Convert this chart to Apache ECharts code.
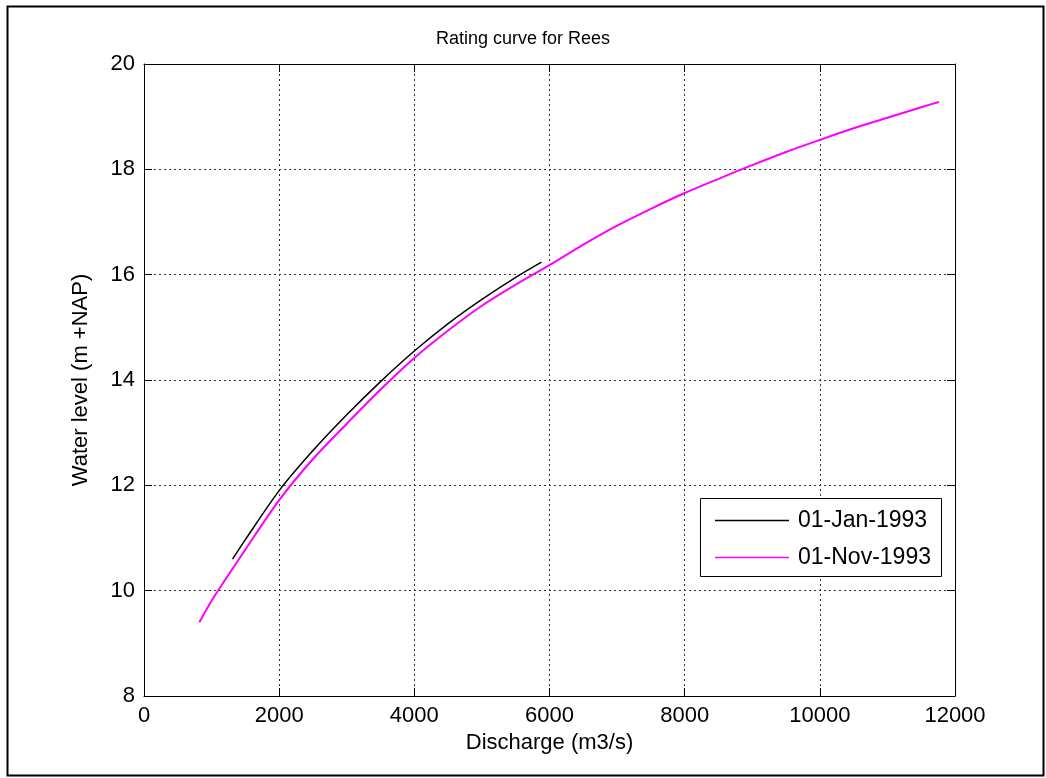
<!DOCTYPE html>
<html><head><meta charset="utf-8">
<script src="https://cdn.jsdelivr.net/npm/echarts@6/dist/echarts.min.js"></script>
<style>html,body{margin:0;padding:0;background:#fff}#c{width:1046px;height:778px}</style>
</head><body><div id="c"></div>
<script>
// ---- data ----
const titleText = 'Rating curve for Rees';
const xLabel = 'Discharge (m3/s)';
const yLabel = 'Water level (m +NAP)';
const xTickLabels = ['0', '2000', '4000', '6000', '8000', '10000', '12000'];
const yTickLabels = ['8', '10', '12', '14', '16', '18', '20'];
const seriesNames = ['01-Jan-1993', '01-Nov-1993'];
// 01-Jan-1993 (black)
const janQ = [1310, 1500, 2000, 2500, 3000, 3500, 4000, 4500, 5000, 5500, 5881];
const janH = [10.60, 10.97, 11.90, 12.66, 13.34, 13.97, 14.55, 15.07, 15.53, 15.95, 16.24];
// 01-Nov-1993 (magenta)
const novQ = [820, 1000, 1500, 2000, 2500, 3000, 3500, 4000, 4500, 5000, 5500, 6000, 6500, 7000, 7500, 8000, 8500, 9000, 9500, 10000, 10500, 11000, 11500, 11763];
const novH = [9.40, 9.81, 10.78, 11.72, 12.50, 13.17, 13.82, 14.42, 14.94, 15.41, 15.81, 16.18, 16.57, 16.93, 17.25, 17.55, 17.82, 18.08, 18.33, 18.56, 18.78, 18.98, 19.18, 19.28];

const xVals = xTickLabels.map(Number), yVals = yTickLabels.map(Number);
const xMin = xVals[0], xMax = xVals[xVals.length - 1], xStep = xVals[1] - xVals[0];
const yMin = yVals[0], yMax = yVals[yVals.length - 1], yStep = yVals[1] - yVals[0];
const pairs = (a, b) => a.map((v, i) => [v, b[i]]);

const FONT = 'Liberation Sans, Arial, sans-serif';
const FS = 22;
const chart = echarts.init(document.getElementById('c'), null, {renderer: 'canvas'});

const axisBase = {
  type: 'value',
  axisLine: {show: true, onZero: false, lineStyle: {color: '#000', width: 1}},
  axisTick: {show: true, inside: true, length: 8, lineStyle: {color: '#000', width: 1}}
};

chart.setOption({
  backgroundColor: '#fff',
  animation: false,
  title: {
    text: titleText, left: 'center', top: 25,
    textStyle: {fontFamily: FONT, fontSize: 18, fontWeight: 'normal', color: '#000'}
  },
  grid: {left: 144, right: 91, top: 64, bottom: 82, containLabel: false},
  legend: {
    data: seriesNames, orient: 'vertical', left: 715, top: 509, padding: 0, z: 8,
    itemWidth: 74, itemHeight: 1.5, itemGap: 14,
    icon: 'rect',
    textStyle: {fontFamily: FONT, fontSize: 23, color: '#000', lineHeight: 20, padding: [0, 0, 0, 4]},
    itemStyle: {borderWidth: 0}
  },
  xAxis: [
    Object.assign({}, axisBase, {
      position: 'bottom', min: xMin, max: xMax, interval: xStep,
      name: xLabel, nameLocation: 'middle', nameGap: 34,
      nameTextStyle: {fontFamily: FONT, fontSize: FS, color: '#000'},
      axisLabel: {fontFamily: FONT, fontSize: FS, color: '#000', margin: 9, formatter: v => String(v)},
      splitLine: {show: true, lineStyle: {color: '#333', type: [2, 3], width: 1}}
    }),
    Object.assign({}, axisBase, {
      position: 'top', min: xMin, max: xMax, interval: xStep,
      axisLabel: {show: false}, splitLine: {show: false}
    })
  ],
  yAxis: [
    Object.assign({}, axisBase, {
      position: 'left', min: yMin, max: yMax, interval: yStep,
      name: yLabel, nameLocation: 'middle', nameGap: 52, nameRotate: 90,
      nameTextStyle: {fontFamily: FONT, fontSize: FS, color: '#000'},
      axisLabel: {fontFamily: FONT, fontSize: FS, color: '#000', margin: 9, formatter: v => String(v)},
      splitLine: {show: true, lineStyle: {color: '#333', type: [2, 3], width: 1}}
    }),
    Object.assign({}, axisBase, {
      position: 'right', min: yMin, max: yMax, interval: yStep,
      axisLabel: {show: false}, splitLine: {show: false}
    })
  ],
  series: [
    {
      name: seriesNames[0], type: 'line', xAxisIndex: 0, yAxisIndex: 0,
      data: pairs(janQ, janH), symbol: 'none', smooth: 0.3, z: 3,
      lineStyle: {color: '#000', width: 1.5}, itemStyle: {color: '#000'}
    },
    {
      name: seriesNames[1], type: 'line', xAxisIndex: 0, yAxisIndex: 0,
      data: pairs(novQ, novH), symbol: 'none', smooth: 0.3, z: 4,
      lineStyle: {color: '#ff00ff', width: 2}, itemStyle: {color: '#ff00ff'}
    }
  ],
  graphic: [
    {type: 'rect', left: 5, top: 4, shape: {width: 1036, height: 769},
     style: {fill: 'none', stroke: '#000', lineWidth: 2}, silent: true, z: 0},
    {type: 'rect', left: 700, top: 498, shape: {width: 241, height: 78},
     style: {fill: '#fff', stroke: '#000', lineWidth: 1}, silent: true, z: 5}
  ]
});
</script>
</body></html>
